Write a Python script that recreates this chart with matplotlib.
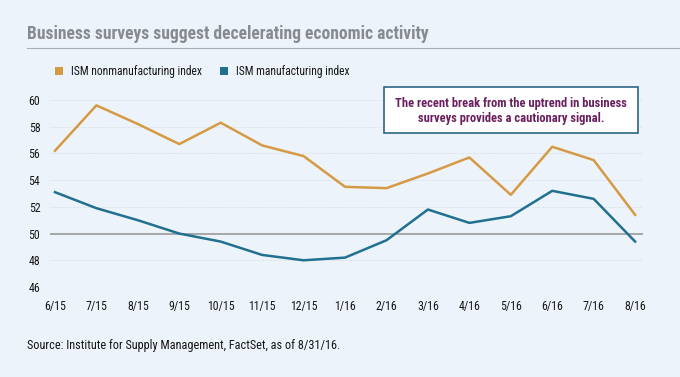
import matplotlib
matplotlib.use("Agg")
import matplotlib.pyplot as plt
from matplotlib import font_manager
from matplotlib.patches import Rectangle
from matplotlib.lines import Line2D

names = {f.name for f in font_manager.fontManager.ttflist}
FONT = "DejaVu Sans"
for cand in ["Roboto Condensed", "PT Sans Narrow", "Fira Sans Condensed", "Archivo Narrow"]:
    if cand in names:
        FONT = cand
        break
plt.rcParams['font.family'] = [FONT, 'DejaVu Sans']

months = ["6/15", "7/15", "8/15", "9/15", "10/15", "11/15", "12/15", "1/16",
          "2/16", "3/16", "4/16", "5/16", "6/16", "7/16", "8/16"]
nonmanufacturing = [56.2, 59.6, 58.2, 56.7, 58.3, 56.6, 55.8, 53.5,
                    53.4, 54.5, 55.7, 52.9, 56.5, 55.5, 51.4]
manufacturing = [53.1, 51.9, 51.0, 50.0, 49.4, 48.4, 48.0, 48.2,
                 49.5, 51.8, 50.8, 51.3, 53.2, 52.6, 49.4]
yticks = [46, 48, 50, 52, 54, 56, 58, 60]

BG = "#edf3fa"
ORANGE = "#d69a45"
BLUE = "#22708f"

W, H = 680, 377
fig = plt.figure(figsize=(6.8, 3.77), dpi=100, facecolor=BG)
renderer = fig.canvas.get_renderer()


def fit(t, target_px):
    bb = t.get_window_extent(renderer=renderer)
    t.set_fontsize(t.get_fontsize() * target_px / bb.width)
    return t


ax = fig.add_axes([50 / W, 1 - 287 / H, (643 - 50) / W, (287 - 100) / H])
ax.set_facecolor(BG)

x = list(range(len(months)))
ax.set_xlim(-0.12, len(months) - 1 + 0.19)
ax.set_ylim(46, 60)

for yv in yticks:
    if yv == 50:
        ax.axhline(yv, color="#999999", lw=1.2, zorder=1)
    else:
        ax.axhline(yv, color="#c8d0d8", lw=0.6, ls=(0, (1, 2)), zorder=1)

ax.plot(x, nonmanufacturing, color=ORANGE, lw=1.8, zorder=3, clip_on=False)
ax.plot(x, manufacturing, color=BLUE, lw=1.8, zorder=3, clip_on=False)

tsize = 8.6
for s in ax.spines.values():
    s.set_visible(False)
ax.set_yticks(yticks)
ax.set_yticklabels([str(v) for v in yticks], fontsize=tsize, color="#161616")
ax.set_xticks(x)
ax.set_xticklabels(months, fontsize=tsize, color="#161616")
ax.tick_params(length=0, pad=7)
ax.tick_params(axis='x', pad=9.5)

# Title
t = fig.text(27 / W, 1 - 34 / H, "Business surveys suggest decelerating economic activity",
             fontsize=12, fontweight="bold", color="#878b90", va="center", ha="left")
fit(t, 403)
fig.add_artist(Line2D([27 / W, 1.0], [1 - 47.5 / H, 1 - 47.5 / H],
                      color="#a9adb2", lw=0.8, transform=fig.transFigure))

# Legend
for lx, col, lab, wpx in [(55, ORANGE, "ISM nonmanufacturing index", 132),
                          (220, BLUE, "ISM manufacturing index", 114)]:
    fig.add_artist(Rectangle((lx / W, 1 - 75 / H), 8 / W, 8 / H,
                             transform=fig.transFigure, facecolor=col, edgecolor="none"))
    tt = fig.text((lx + 16) / W, 1 - 71.5 / H, lab, fontsize=9, color="#161616",
                  va="center", ha="left")
    fit(tt, wpx)

# Annotation box
fig.add_artist(Rectangle((384 / W, 1 - 133 / H), (638 - 384) / W, (133 - 87) / H,
                         transform=fig.transFigure, facecolor="white",
                         edgecolor="#2b6585", lw=1.2, zorder=5))
a1 = fig.text(511 / W, 1 - 103.5 / H, "The recent break from the uptrend in business",
              fontsize=9, fontweight="bold", color="#6a1f5e", ha="center", va="center", zorder=6)
fit(a1, 232)
a2 = fig.text(511 / W, 1 - 118.5 / H, "surveys provides a cautionary signal.",
              fontsize=a1.get_fontsize(), fontweight="bold", color="#6a1f5e",
              ha="center", va="center", zorder=6)

# Source
s = fig.text(27 / W, 1 - 345 / H, "Source: Institute for Supply Management, FactSet, as of 8/31/16.",
             fontsize=8, color="#161616", va="center", ha="left")
fit(s, 315)

fig.savefig("out.png", dpi=100, facecolor=BG)
